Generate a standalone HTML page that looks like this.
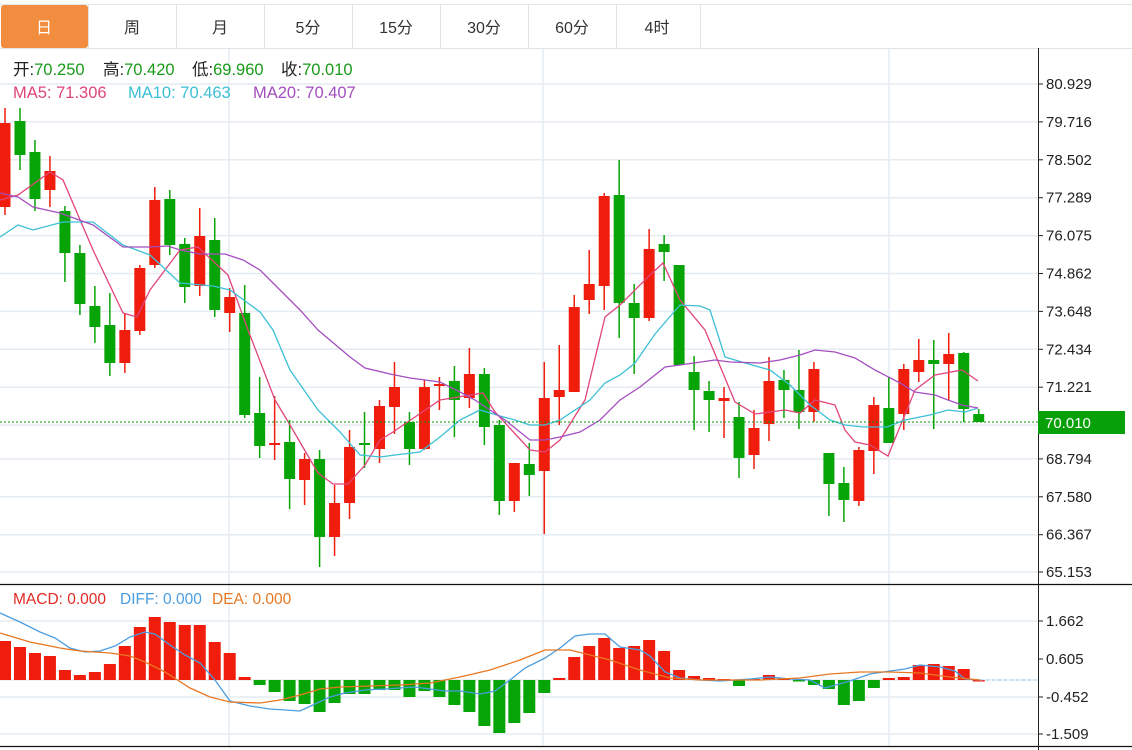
<!DOCTYPE html>
<html><head><meta charset="utf-8"><style>
body{margin:0;background:#fff;width:1132px;height:750px;overflow:hidden;font-family:"Liberation Sans","Noto Sans CJK SC",sans-serif}
svg{position:absolute;left:0;top:0}
</style></head><body>
<svg id="s" width="1132" height="750" xmlns="http://www.w3.org/2000/svg" font-family="Liberation Sans, Noto Sans CJK SC, sans-serif">
<rect x="0" y="0" width="1132" height="750" fill="#fff"/>
<g id="grid" stroke="#e4ebf1" stroke-width="1.5"></g>
<line x1="0" y1="48.5" x2="1132" y2="48.5" stroke="#dde3e8"/>
<line x1="0" y1="4.5" x2="1132" y2="4.5" stroke="#e3e7ea"/>
<g stroke="#dde3e8"><line x1="88.5" y1="4" x2="88.5" y2="48"/><line x1="176.5" y1="4" x2="176.5" y2="48"/><line x1="264.5" y1="4" x2="264.5" y2="48"/><line x1="352.5" y1="4" x2="352.5" y2="48"/><line x1="440.5" y1="4" x2="440.5" y2="48"/><line x1="528.5" y1="4" x2="528.5" y2="48"/><line x1="616.5" y1="4" x2="616.5" y2="48"/><line x1="700.5" y1="4" x2="700.5" y2="48"/></g>
<rect x="1" y="5" width="87" height="43" rx="3" fill="#f28c3e"/>
<g font-size="16" text-anchor="middle" fill="#333">
<text x="44" y="33" fill="#fff">日</text><text x="132" y="33">周</text><text x="220" y="33">月</text><text x="308" y="33">5分</text><text x="396" y="33">15分</text><text x="484" y="33">30分</text><text x="572" y="33">60分</text><text x="657" y="33">4时</text></g>
<g id="main"></g>
<line x1="0" y1="422" x2="1038" y2="422" stroke="#0a9a0a" stroke-dasharray="2,2"/>
<line x1="980" y1="680" x2="1036" y2="680" stroke="#8cc6ea" stroke-dasharray="3,3"/>
<line x1="0" y1="584.5" x2="1132" y2="584.5" stroke="#111" stroke-width="1.2"/>
<line x1="0" y1="746.5" x2="1132" y2="746.5" stroke="#111" stroke-width="1.2"/>
<line x1="1038.5" y1="48" x2="1038.5" y2="750" stroke="#222"/>
<g id="ticks" font-size="15" fill="#222"></g>
<rect x="1038" y="411" width="87" height="23" fill="#08a008"/>
<text x="1045" y="428" font-size="15" fill="#fff">70.010</text>
<g font-size="16.5">
<text y="75"><tspan x="13" fill="#222">开:</tspan><tspan fill="#1a9a1a">70.250</tspan><tspan x="103" fill="#222">高:</tspan><tspan fill="#1a9a1a">70.420</tspan><tspan x="192" fill="#222">低:</tspan><tspan fill="#1a9a1a">69.960</tspan><tspan x="281" fill="#222">收:</tspan><tspan fill="#1a9a1a">70.010</tspan></text>
<text y="98"><tspan x="13" fill="#e0457b">MA5: 71.306</tspan><tspan x="128" fill="#3cc0d6">MA10: 70.463</tspan><tspan x="253" fill="#a44ec0">MA20: 70.407</tspan></text>
</g>
<text y="604" font-size="15.5"><tspan x="13" fill="#e02a22">MACD: 0.000</tspan><tspan x="120" fill="#4a9de0">DIFF: 0.000</tspan><tspan x="212" fill="#e87722">DEA: 0.000</tspan></text>
</svg>
<script>
var NS="http://www.w3.org/2000/svg";
function el(p,t,a){var e=document.createElementNS(NS,t);for(var k in a)e.setAttribute(k,a[k]);p.appendChild(e);return e;}
var g=document.getElementById('grid'),m=document.getElementById('main'),tk=document.getElementById('ticks');
var py=[[84,"80.929"],[121.9,"79.716"],[159.8,"78.502"],[197.7,"77.289"],[235.6,"76.075"],[273.5,"74.862"],[311.4,"73.648"],[349.3,"72.434"],[387.2,"71.221"],[458.9,"68.794"],[496.8,"67.580"],[534.7,"66.367"],[572,"65.153"]];
var allY=[84,121.9,159.8,197.7,235.6,273.5,311.4,349.3,387.2,425.1,458.9,496.8,534.7,572];
allY.forEach(function(y){el(g,'line',{x1:0,x2:1038,y1:y,y2:y});});
[621,680,697,734].forEach(function(y){el(g,'line',{x1:0,x2:1038,y1:y,y2:y});});
[229,543,889].forEach(function(x){el(g,'line',{x1:x,x2:x,y1:48,y2:746});});
py.forEach(function(p){el(tk,'line',{x1:1038,x2:1043,y1:p[0],y2:p[0],stroke:'#222'});var t=el(tk,'text',{x:1046,y:p[0]+5});t.textContent=p[1];});
[[621,"1.662"],[659,"0.605"],[697,"-0.452"],[734,"-1.509"]].forEach(function(p){el(tk,'line',{x1:1038,x2:1043,y1:p[0],y2:p[0],stroke:'#222'});var t=el(tk,'text',{x:1046,y:p[0]+5});t.textContent=p[1];});
var C=[['r',123,207,108,215],['g',121,155,108,170],['g',152,199,140,211],['r',171,190,156,207],['g',211,253,206,282],['g',253,304,245,315],['g',306,327,286,343],['g',325,363,293,376],['r',330,363,313,373],['r',268,331,265,335],
['r',200,265,187,268],['g',199,245,190,255],['g',244,287,238,303],['r',236,286,208,296],['g',240,310,218,317],['r',297,313,288,332],['g',313,415,285,418],['g',413,446,377,458],['r',443,445,396,460],['g',442,479,420,509],
['r',459,480,453,505],['g',459,537,450,567],['r',503,537,485,556],['r',447,503,430,519],['g',443,445,412,468],['r',406,449,400,463],['r',387,407,362,434],['g',422,449,412,465],['r',387,449,380,450],['r',384,386,377,410],
['g',381,400,366,437],['r',374,398,348,408],['g',374,427,368,445],['g',425,501,420,515],['r',463,501,463,512],['g',464,475,443,496],['r',398,471,362,534],['r',390,397,345,425],['r',307,392,295,392],['r',284,300,250,314],
['r',196,286,193,310],['g',195,303,160,338],['g',303,318,284,374],['r',249,318,229,321],['g',244,252,235,281],['g',265,365,265,365],['g',372,390,356,430],['g',391,400,381,432],['r',398,401,387,438],['g',417,458,402,478],
['r',428,455,410,469],['r',381,424,357,441],['g',380,390,370,418],['g',390,412,350,429],['r',369,412,362,422],['g',453,484,453,516],['g',483,500,467,522],['r',450,501,447,506],['r',405,451,397,474],['g',408,443,377,443],
['r',369,414,364,430],['r',360,372,339,382],['g',360,364,340,429],['r',354,364,333,400],['g',353,409,352,422],['g',414,422,409,422]];
var H=[641,647,653,656,670,675,672,664,646,627,617,622,625,625,642,653,677,685,692,701,704,712,703,694,694,690,690,697,691,697,705,712,726,733,723,713,693,678,657,646,638,648,646,640,651,670,676,678,679,686,679,675,678,681,685,689,705,701,688,678,677,665,664,666,669,680];
var RED='#f01c0c',GRN='#06a406';
C.forEach(function(c,i){var x=5+i*14.98;var col=c[0]=='r'?RED:GRN;
el(m,'line',{x1:x,x2:x,y1:c[3],y2:c[4],stroke:col,'stroke-width':1.5});
var h=Math.max(2,c[2]-c[1]);el(m,'rect',{x:x-5.5,y:c[1],width:11,height:h,fill:col});
var v=H[i];var top=Math.min(v,680),hh=Math.abs(v-680);if(hh<1.5)hh=1.5;
el(m,'rect',{x:x-6,y:top,width:12,height:hh,fill:v<=680?RED:GRN});
});
function pl(pts,col){el(m,'polyline',{points:pts,fill:'none',stroke:col,'stroke-width':1.3});}
pl("0,200 18,195 50,172 63,180 93,250 123,313 137,317 150,290 180,250 198,247 228,275 248,330 275,400 290,425 318,473 333,484 348,484 365,465 380,440 393,432 440,400 483,393 495,412 530,450 545,452 560,440 585,400 605,317 620,305 650,275 663,263 680,300 705,330 735,402 755,414 785,410 800,413 815,400 835,405 845,430 855,442 870,445 888,456 915,390 935,375 962,370 978,381","#e0457b");
pl("0,237 18,225 33,230 63,222 93,222 123,245 150,255 180,283 213,286 230,290 260,312 273,330 290,370 318,410 340,432 360,455 380,457 395,455 420,452 440,437 460,420 480,410 500,416 515,420 530,425 545,425 560,420 590,400 605,383 620,375 635,363 655,334 680,305 700,306 710,310 725,357 745,363 770,370 790,385 810,405 830,420 845,425 863,427 887,427 905,420 930,415 948,410 965,412 978,408","#3cc0d6");
pl("0,193 18,197 33,207 60,213 93,225 123,247 150,247 168,246 180,250 200,254 225,254 243,260 260,270 280,290 300,310 318,330 350,357 365,368 390,374 410,378 440,382 460,392 475,400 490,410 505,420 520,432 530,440 545,440 560,437 580,432 600,420 620,400 640,387 665,367 680,365 715,360 730,362 760,363 780,360 800,355 815,350 835,352 855,358 875,370 900,383 915,392 935,395 948,400 962,405 978,408","#a44ec0");
pl("0,613 20,622 40,632 55,638 70,648 85,652 100,651 115,646 130,637 145,632 155,634 170,645 185,655 200,663 215,680 230,701 250,706 270,709 300,711 315,704 330,697 345,693 365,690 385,689 400,688 415,687 430,689 445,691 460,691 480,694 495,691 510,680 525,668 545,658 560,648 575,636 590,634 605,634 620,647 640,650 650,656 665,672 680,678 700,680 720,681 750,679 770,677 790,679 810,680 825,688 850,681 870,674 890,671 905,669 920,665 940,667 955,671 965,679 980,680","#4a9de0");
pl("0,633 30,642 60,648 80,651 110,653 130,656 145,662 165,672 190,688 210,697 230,702 260,703 280,700 300,695 320,689 340,687 370,686 400,685 430,683 460,677 490,670 520,660 545,650 570,650 590,655 610,660 640,670 670,678 700,680 760,680 800,678 830,674 860,672 890,672 920,673 950,677 980,680","#e87722");
</script>
</body></html>
